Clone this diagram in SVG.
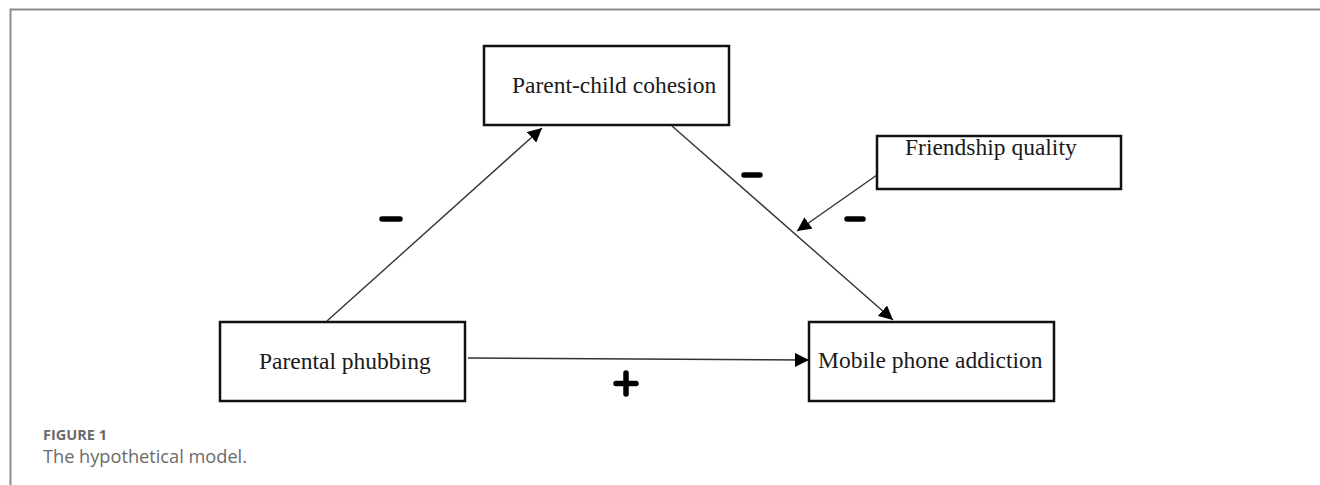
<svg xmlns="http://www.w3.org/2000/svg" width="1320" height="485" viewBox="0 0 1320 485">
<style>
.box{fill:#fff;stroke:#111;stroke-width:2.5}
.lbl{font-family:"Liberation Serif","Times New Roman",serif;font-size:23.5px;fill:#1a1a1a}
.con{stroke:#333;stroke-width:1.4;fill:none}
.sign{stroke:#000;stroke-width:5.5;stroke-linecap:round;fill:none}
.cap1{font-family:"Open Sans","Lato",sans-serif;font-size:14.5px;font-weight:bold;fill:#6a6a6a}
.cap2{font-family:"Open Sans","Lato",sans-serif;font-size:18.2px;fill:#6a6a6a}
</style>
<defs>
<marker id="ahL" viewBox="0 0 10 10" refX="10" refY="5" markerWidth="14" markerHeight="14" markerUnits="userSpaceOnUse" orient="auto">
<path d="M0,0 L10,5 L0,10 z" fill="#000"/>
</marker>
</defs>
<rect width="1320" height="485" fill="#fff"/>
<path d="M10.5,485 V9.5 H1320" fill="none" stroke="#8c8c8c" stroke-width="2"/>
<g id="connectors">
<line class="con" x1="327" y1="321" x2="542" y2="128" marker-end="url(#ahL)"/>
<line class="con" x1="672" y1="126" x2="893" y2="320" marker-end="url(#ahL)"/>
<line class="con" x1="877" y1="175" x2="797" y2="231" marker-end="url(#ahL)"/>
<line class="con" x1="468" y1="358" x2="809" y2="360" marker-end="url(#ahL)"/>
</g>
<g id="signs">
<line class="sign" x1="382" y1="219" x2="400" y2="219"/>
<line class="sign" x1="744" y1="175" x2="760" y2="175"/>
<line class="sign" x1="847" y1="219" x2="863" y2="219"/>
<line class="sign" x1="616" y1="383.5" x2="636" y2="383.5"/>
<line class="sign" x1="626" y1="373" x2="626" y2="394"/>
</g>
<g id="parent-child-cohesion">
<rect class="box" x="484" y="46" width="245" height="79"/>
<text class="lbl" x="512" y="93">Parent-child cohesion</text>
</g>
<g id="friendship-quality">
<rect class="box" x="877" y="136" width="244" height="53"/>
<text class="lbl" x="905" y="155">Friendship quality</text>
</g>
<g id="parental-phubbing">
<rect class="box" x="220" y="322" width="245" height="79"/>
<text class="lbl" x="259" y="369">Parental phubbing</text>
</g>
<g id="mobile-phone-addiction">
<rect class="box" x="809" y="322" width="245" height="79"/>
<text class="lbl" x="818" y="368">Mobile phone addiction</text>
</g>
<g id="caption">
<text class="cap1" x="43" y="440">FIGURE 1</text>
<text class="cap2" x="43" y="463">The hypothetical model.</text>
</g>
</svg>
